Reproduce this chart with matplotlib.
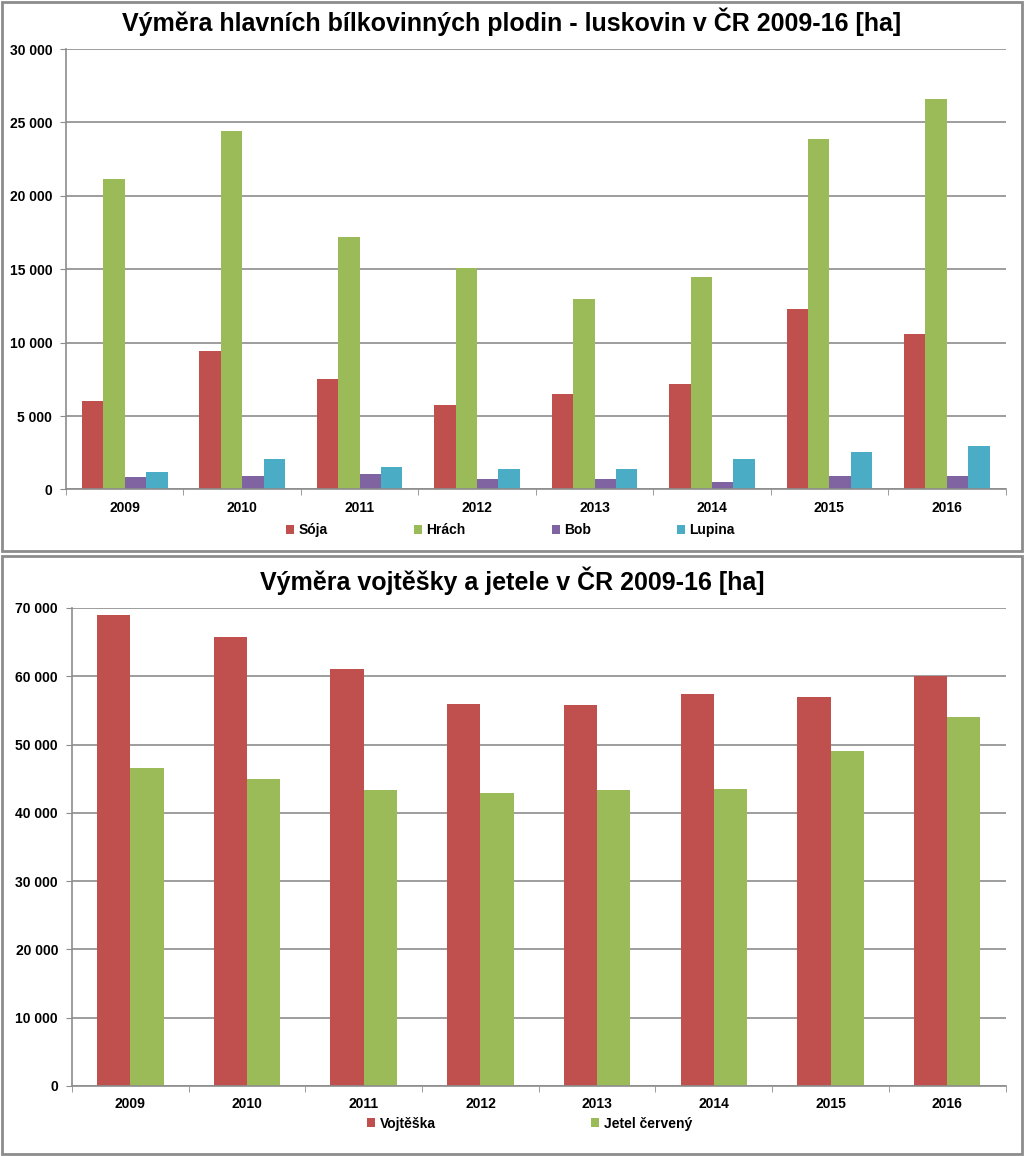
import numpy as np
import matplotlib.pyplot as plt
from matplotlib.patches import Rectangle
from matplotlib.ticker import FuncFormatter, FixedLocator

plt.rcParams['font.family'] = ['Liberation Sans', 'DejaVu Sans']

# --- data ---
roky = ['2009', '2010', '2011', '2012', '2013', '2014', '2015', '2016']

soja = [6050, 9450, 7550, 5750, 6500, 7200, 12300, 10600]
hrach = [21150, 24400, 17200, 15050, 12950, 14450, 23900, 26600]
bob = [880, 900, 1020, 700, 700, 480, 900, 900]
lupina = [1200, 2050, 1500, 1380, 1380, 2050, 2520, 2950]

vojteska = [69000, 65800, 61100, 56000, 55850, 57400, 57000, 60000]
jetel = [46500, 44900, 43300, 42900, 43350, 43500, 49100, 54000]

cervena = '#C0504D'
zelena = '#9BBB59'
fialova = '#8064A2'
modra = '#4BACC6'
seda = '#8C8C8C'


def tisice(v, pos):
    return f'{int(v):,}'.replace(',', ' ')


def uprav_osu(ax, ymax, krok):
    ax.set_xlim(-0.5, len(roky) - 0.5)
    ax.set_ylim(0, ymax)
    ax.set_yticks(np.arange(0, ymax + 1, krok))
    ax.yaxis.set_major_formatter(FuncFormatter(tisice))
    ax.set_xticks(np.arange(len(roky)))
    ax.set_xticklabels(roky, fontweight='bold', fontsize=10)
    ax.xaxis.set_minor_locator(FixedLocator(np.arange(-0.5, len(roky), 1.0)))
    ax.tick_params(axis='x', which='major', length=0, pad=8)
    ax.tick_params(axis='x', which='minor', length=4, color=seda, direction='out')
    ax.tick_params(axis='y', length=4, color=seda, labelsize=10, pad=6)
    for t in ax.get_yticklabels():
        t.set_fontweight('bold')
    ax.grid(axis='y', color=seda, linewidth=1.2)
    ax.set_axisbelow(True)
    for s in ['top', 'right']:
        ax.spines[s].set_visible(False)
    for s in ['left', 'bottom']:
        ax.spines[s].set_color(seda)
        ax.spines[s].set_linewidth(1.2)


fig = plt.figure(figsize=(10.24, 11.56), dpi=100)

# ramecky panelu
fig.patches.append(Rectangle((0.002, 0.523), 0.996, 0.475, transform=fig.transFigure,
                             fill=False, edgecolor=seda, linewidth=2))
fig.patches.append(Rectangle((0.002, 0.002), 0.996, 0.517, transform=fig.transFigure,
                             fill=False, edgecolor=seda, linewidth=2))

# --- horni graf: luskoviny ---
ax1 = fig.add_axes([0.0645, 0.5766, 0.9175, 0.381])
x = np.arange(len(roky))
w = 0.182
serie = [(soja, 'Sója', cervena), (hrach, 'Hrách', zelena),
         (bob, 'Bob', fialova), (lupina, 'Lupina', modra)]
for i, (hodnoty, nazev, barva) in enumerate(serie):
    ax1.bar(x + (i - 1.5) * w, hodnoty, w, color=barva, label=nazev)
uprav_osu(ax1, 30000, 5000)
fig.text(0.5, 0.981, 'Výměra hlavních bílkovinných plodin - luskovin v ČR 2009-16 [ha]',
         ha='center', va='center', fontsize=18, fontweight='bold')
ax1.legend(loc='center', bbox_to_anchor=(0.473, -0.093), ncol=4, frameon=False,
           handlelength=0.6, handleheight=0.6, handletextpad=0.3,
           columnspacing=6.2, prop={'weight': 'bold', 'size': 10})

# --- dolni graf: vojteska a jetel ---
ax2 = fig.add_axes([0.0703, 0.0606, 0.9117, 0.4135])
w2 = 0.285
ax2.bar(x - w2 / 2, vojteska, w2, color=cervena, label='Vojtěška')
ax2.bar(x + w2 / 2, jetel, w2, color=zelena, label='Jetel červený')
uprav_osu(ax2, 70000, 10000)
fig.text(0.5, 0.498, 'Výměra vojtěšky a jetele v ČR 2009-16 [ha]',
         ha='center', va='center', fontsize=18, fontweight='bold')
ax2.legend(loc='center', bbox_to_anchor=(0.49, -0.079), ncol=2, frameon=False,
           handlelength=0.6, handleheight=0.6, handletextpad=0.3,
           columnspacing=11.2, prop={'weight': 'bold', 'size': 10})

fig.savefig('out.png', dpi=100)
